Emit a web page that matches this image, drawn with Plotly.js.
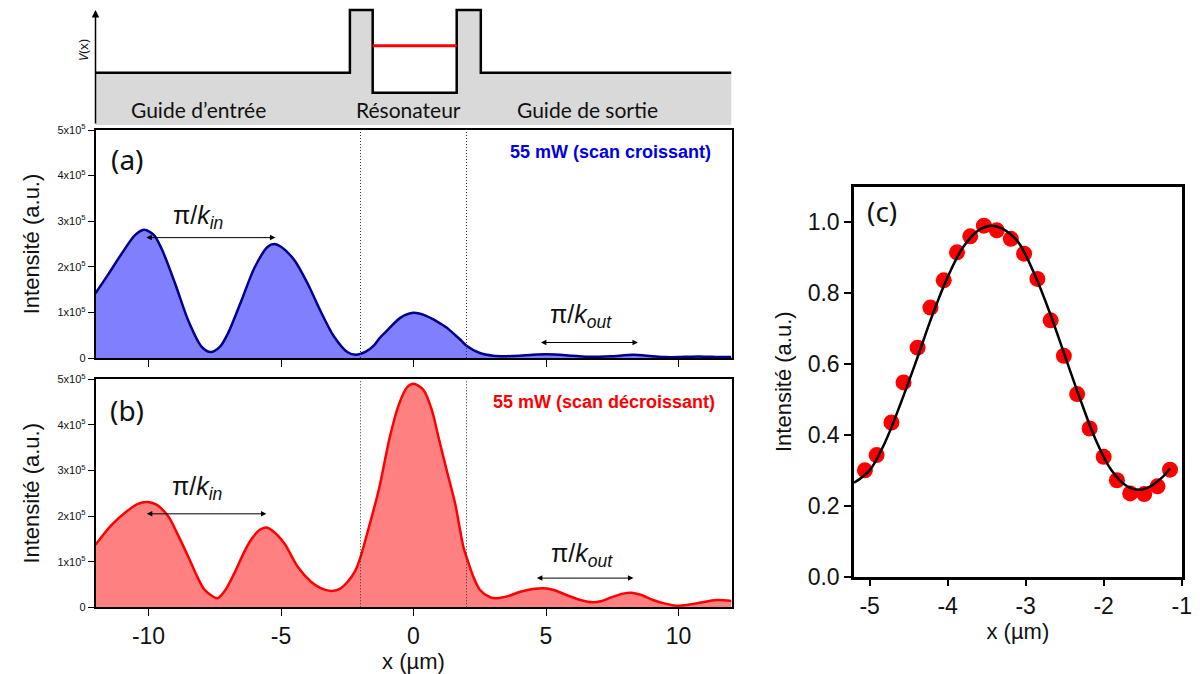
<!DOCTYPE html>
<html>
<head>
<meta charset="utf-8">
<script src="https://cdn.plot.ly/plotly-3.0.1.min.js"></script>
<style>html,body{margin:0;padding:0;background:#fff;}#chart{width:1203px;height:674px;}</style>
</head>
<body>
<div id="chart"></div>
<script>
// ---------- data ----------
// potential profile (top sketch)
const potX = [-12, -2.40, -2.40, -1.54, -1.54, 1.63, 1.63, 2.54, 2.54, 12];
const potV = [0, 0, 1, 1, -0.32, -0.32, 1, 1, 0, 0];
const potBaseX = [-12, 12];
const potBaseV = [-0.834, -0.834];
const levelX = [-1.54, 1.63];
const levelV = [0.43, 0.43];
const regionLabels = ["Guide d’entrée", "Résonateur", "Guide de sortie"];
const regionLabelX = [-8.1, -0.2, 6.55];

// panel (a) : 55 mW, scan croissant
const xA = [-12, -11.5, -11, -10.5, -10.15, -9.8, -9.5, -9, -8.5, -8, -7.65, -7.3, -7, -6.5, -6, -5.5, -5.25, -5, -4.5, -4, -3.5, -3, -2.5, -2.18, -1.8, -1.5, -1.26, -1, -0.5, 0, 0.5, 0.77, 1, 1.27, 1.5, 1.77, 2, 2.5, 3, 3.5, 4, 4.5, 5, 5.5, 6, 6.5, 7, 7.5, 8.3, 9, 9.5, 10, 10.5, 11, 11.5, 12];
const yA = [1.42e5, 1.85e5, 2.3e5, 2.7e5, 2.81e5, 2.7e5, 2.39e5, 1.64e5, 0.82e5, 0.25e5, 0.13e5, 0.25e5, 0.54e5, 1.25e5, 1.98e5, 2.44e5, 2.5e5, 2.44e5, 2.15e5, 1.64e5, 1.02e5, 0.47e5, 0.13e5, 0.07e5, 0.14e5, 0.27e5, 0.45e5, 0.6e5, 0.88e5, 0.99e5, 0.92e5, 0.84e5, 0.76e5, 0.66e5, 0.54e5, 0.40e5, 0.27e5, 0.11e5, 0.05e5, 0.04e5, 0.05e5, 0.07e5, 0.08e5, 0.07e5, 0.05e5, 0.03e5, 0.03e5, 0.04e5, 0.07e5, 0.04e5, 0.02e5, 0.02e5, 0.03e5, 0.03e5, 0.02e5, 0.02e5];

// panel (b) : 55 mW, scan décroissant
const xB = [-12, -11.4, -10.83, -10.4, -10.05, -9.7, -9.25, -8.9, -8.5, -8.2, -7.88, -7.4, -7.1, -6.76, -6.4, -6.13, -5.8, -5.56, -5.3, -4.87, -4.37, -3.87, -3.5, -3.12, -2.8, -2.5, -2.2, -2.0, -1.7, -1.3, -0.9, -0.55, -0.25, 0, 0.37, 0.69, 0.94, 1.25, 1.57, 1.88, 2.03, 2.26, 2.51, 2.89, 3.15, 3.6, 4.03, 4.5, 4.91, 5.3, 5.77, 6.3, 6.77, 7.1, 7.52, 7.9, 8.23, 8.6, 9.04, 9.5, 9.92, 10.4, 10.8, 11.43, 12];
const yB = [1.37e5, 1.8e5, 2.1e5, 2.27e5, 2.31e5, 2.25e5, 1.99e5, 1.6e5, 1.11e5, 0.72e5, 0.38e5, 0.2e5, 0.38e5, 0.75e5, 1.2e5, 1.48e5, 1.7e5, 1.75e5, 1.67e5, 1.40e5, 0.89e5, 0.56e5, 0.42e5, 0.36e5, 0.4e5, 0.55e5, 0.8e5, 1.1e5, 1.72e5, 2.6e5, 3.72e5, 4.45e5, 4.82e5, 4.9e5, 4.77e5, 4.33e5, 3.74e5, 3.01e5, 2.28e5, 1.33e5, 1.05e5, 0.67e5, 0.38e5, 0.22e5, 0.2e5, 0.25e5, 0.34e5, 0.4e5, 0.42e5, 0.38e5, 0.27e5, 0.16e5, 0.11e5, 0.14e5, 0.23e5, 0.3e5, 0.32e5, 0.27e5, 0.16e5, 0.08e5, 0.035e5, 0.06e5, 0.1e5, 0.16e5, 0.14e5];

const yTickVals = [0, 1e5, 2e5, 3e5, 4e5, 5e5];
const yTickText = ["0", "1x10<sup>5</sup>", "2x10<sup>5</sup>", "3x10<sup>5</sup>", "4x10<sup>5</sup>", "5x10<sup>5</sup>"];
const xTickValsAB = [-10, -5, 0, 5, 10];
const xTickTextAB = ["-10", "-5", "0", "5", "10"];
const barrierLines = [-2, 2];

// arrows : [x start, x end, y]
const arrowInA = [-10.14, -5.21, 2.64e5];
const arrowOutA = [4.75, 8.47, 0.34e5];
const arrowInB = [-10.12, -5.55, 2.05e5];
const arrowOutB = [4.6, 8.3, 0.64e5];

// panel (c)
const ptX = [-5.06, -4.91, -4.72, -4.565, -4.385, -4.22, -4.05, -3.88, -3.71, -3.535, -3.37, -3.19, -3.02, -2.85, -2.68, -2.51, -2.34, -2.18, -2.0, -1.83, -1.66, -1.48, -1.31, -1.15];
const ptY = [0.30, 0.343, 0.435, 0.548, 0.646, 0.759, 0.836, 0.915, 0.96, 0.99, 0.977, 0.953, 0.911, 0.84, 0.723, 0.623, 0.515, 0.418, 0.338, 0.272, 0.235, 0.233, 0.255, 0.302];
const fitX = [-5.2, -5.0, -4.8, -4.6, -4.4, -4.2, -4.0, -3.8, -3.6, -3.45, -3.3, -3.1, -2.9, -2.7, -2.5, -2.3, -2.1, -1.9, -1.7, -1.55, -1.4, -1.25, -1.15];
const fitY = [0.265, 0.30, 0.38, 0.49, 0.61, 0.735, 0.845, 0.93, 0.978, 0.99, 0.982, 0.945, 0.86, 0.75, 0.625, 0.5, 0.385, 0.3, 0.255, 0.245, 0.255, 0.28, 0.305];
const xTickValsC = [-5, -4, -3, -2, -1];
const xTickTextC = ["-5", "-4", "-3", "-2", "-1"];

// ---------- figure ----------
const W = 1203, H = 674;
const FONT = "'Liberation Sans', Arial, sans-serif";
const TXT = '#111';
const fx = p => p / W;
const fy = p => 1 - p / H;

const traces = [
  // top potential sketch
  {x: potBaseX, y: potBaseV, xaxis: 'x4', yaxis: 'y4', mode: 'lines', line: {width: 0, color: 'rgba(0,0,0,0)'}, hoverinfo: 'skip', showlegend: false},
  {x: potX, y: potV, xaxis: 'x4', yaxis: 'y4', mode: 'lines', fill: 'tonexty', fillcolor: '#d9d9d9', line: {color: '#000', width: 2.5}, showlegend: false},
  {x: levelX, y: levelV, xaxis: 'x4', yaxis: 'y4', mode: 'lines', line: {color: '#ff0000', width: 3}, showlegend: false},
  // (a)
  {x: xA, y: yA, xaxis: 'x', yaxis: 'y', mode: 'lines', fill: 'tozeroy', fillcolor: '#8080ff', line: {color: '#00008b', width: 2.5, shape: 'spline', smoothing: 0.8}, showlegend: false},
  // (b)
  {x: xB, y: yB, xaxis: 'x2', yaxis: 'y2', mode: 'lines', fill: 'tozeroy', fillcolor: '#ff8080', line: {color: '#ff0000', width: 2.5, shape: 'spline', smoothing: 0.8}, showlegend: false},
  // (c)
  {x: ptX, y: ptY, xaxis: 'x3', yaxis: 'y3', mode: 'markers', marker: {color: '#ff0000', size: 16}, showlegend: false},
  {x: fitX, y: fitY, xaxis: 'x3', yaxis: 'y3', mode: 'lines', line: {color: '#000', width: 2.5, shape: 'spline', smoothing: 1}, showlegend: false}
];

const xDomAB = [fx(95.5), fx(731.5)];
const yTitleFont = {family: FONT, size: 22, color: TXT};

const abX = (anchor, showLabels) => ({
  anchor: anchor, domain: xDomAB, range: [-12, 12], showgrid: false, zeroline: false,
  showline: true, linecolor: '#000', linewidth: 1.5, mirror: true,
  ticks: 'outside', ticklen: 7, tickwidth: 1.2, tickcolor: '#000',
  tickmode: 'array', tickvals: xTickValsAB, ticktext: xTickTextAB,
  showticklabels: showLabels, tickfont: {family: FONT, size: 23, color: TXT}
});
const abY = (anchor, dom) => ({
  anchor: anchor, domain: dom, range: [0, 5e5], showgrid: false, zeroline: false,
  showline: true, linecolor: '#000', linewidth: 1.5, mirror: true,
  ticks: 'outside', ticklen: 6, tickwidth: 1.2, tickcolor: '#000',
  tickmode: 'array', tickvals: yTickVals, ticktext: yTickText,
  tickfont: {family: FONT, size: 11, color: TXT},
  title: {text: 'Intensité (a.u.)', font: yTitleFont, standoff: 12}
});
// secondary (overlaying) axes that only carry the minor tick marks
const minorAxis = (over, anchor, range, dtick, len, width, side) => ({
  overlaying: over, anchor: anchor, range: range, side: side, showgrid: false, zeroline: false, showline: false,
  ticks: 'outside', ticklen: len, tickwidth: width, tickcolor: '#000', tickmode: 'linear', tick0: 0, dtick: dtick,
  showticklabels: false, fixedrange: true
});

const layout = {
  width: W, height: H, margin: {l: 0, r: 0, t: 0, b: 0, pad: 0},
  paper_bgcolor: '#fff', plot_bgcolor: 'rgba(0,0,0,0)', showlegend: false,
  font: {family: FONT, color: TXT},
  xaxis: abX('y', false),
  yaxis: abY('x', [fy(358), fy(130)]),
  xaxis2: Object.assign(abX('y2', true), {title: {text: 'x (µm)', font: yTitleFont, standoff: 4}}),
  yaxis2: abY('x2', [fy(607.3), fy(379.3)]),
  xaxis3: {
    anchor: 'y3', domain: [fx(854), fx(1181.7)], range: [-5.2, -1], showgrid: false, zeroline: false,
    showline: true, linecolor: '#000', linewidth: 2.5, mirror: true,
    ticks: 'outside', ticklen: 7, tickwidth: 2, tickcolor: '#000',
    tickmode: 'array', tickvals: xTickValsC, ticktext: xTickTextC,
    tickfont: {family: FONT, size: 23, color: TXT},
    title: {text: 'x (µm)', font: yTitleFont, standoff: 4}
  },
  yaxis3: {
    anchor: 'x3', domain: [fy(576.7), fy(186.7)], range: [0, 1.1], showgrid: false, zeroline: false,
    showline: true, linecolor: '#000', linewidth: 2.5, mirror: true,
    ticks: 'outside', ticklen: 7, tickwidth: 2, tickcolor: '#000', tickmode: 'linear', tick0: 0, dtick: 0.2, tickformat: '.1f',
    tickfont: {family: FONT, size: 23, color: TXT},
    title: {text: 'Intensité (a.u.)', font: yTitleFont, standoff: 10}
  },
  xaxis4: {anchor: 'y4', domain: xDomAB, range: [-12, 12], visible: false, fixedrange: true},
  yaxis4: {anchor: 'x4', domain: [fy(125), 1], range: [-0.834, 1.16], visible: false, fixedrange: true},
  xaxis5: minorAxis('x', 'y', [-12, 12], 2.5, 4, 1, 'bottom'),
  xaxis6: minorAxis('x2', 'y2', [-12, 12], 2.5, 4, 1, 'bottom'),
  xaxis7: minorAxis('x3', 'y3', [-5.2, -1], 0.5, 4, 2, 'bottom'),
  yaxis5: minorAxis('y', 'x', [0, 5e5], 5e4, 3, 1, 'left'),
  yaxis6: minorAxis('y2', 'x2', [0, 5e5], 5e4, 3, 1, 'left'),
  yaxis7: minorAxis('y3', 'x3', [0, 1.1], 0.1, 4, 2, 'left'),
  shapes: [],
  annotations: []
};

// dotted lines at the barriers
barrierLines.forEach(v => {
  ['x', 'x2'].forEach((xr, i) => {
    layout.shapes.push({type: 'line', xref: xr, yref: (i === 0 ? 'y' : 'y2') + ' domain', x0: v, x1: v, y0: 0, y1: 1,
      line: {color: '#333', width: 1, dash: '1px,2px'}, layer: 'above'});
  });
});

// potential axis arrow
layout.annotations.push({xref: 'x4', yref: 'y4', axref: 'x4', ayref: 'y4', x: -12, y: 1.0, ax: -12, ay: -0.834,
  text: '', showarrow: true, arrowhead: 2, arrowsize: 1, arrowwidth: 1.5, arrowcolor: '#000'});
layout.annotations.push({xref: 'paper', yref: 'paper', x: fx(83), y: fy(50), text: '<i>V</i>(x)', textangle: -90,
  showarrow: false, font: {family: "'Noto Sans', sans-serif", size: 13, color: TXT}, xanchor: 'center', yanchor: 'middle'});
regionLabels.forEach((t, i) => {
  layout.annotations.push({xref: 'x4', yref: 'paper', x: regionLabelX[i], y: fy(110), text: t, showarrow: false,
    font: {family: "Lato, sans-serif", size: 21, color: TXT}, xanchor: 'center', yanchor: 'middle'});
});

// double arrows + labels
function dbl(arr, xr, yr) {
  layout.annotations.push({xref: xr, yref: yr, axref: xr, ayref: yr, x: arr[1], y: arr[2], ax: arr[0], ay: arr[2],
    text: '', showarrow: true, arrowhead: 2, arrowside: 'end+start', arrowsize: 1.1, arrowwidth: 1, arrowcolor: '#000'});
}
dbl(arrowInA, 'x', 'y'); dbl(arrowOutA, 'x', 'y'); dbl(arrowInB, 'x2', 'y2'); dbl(arrowOutB, 'x2', 'y2');

const piFont = {family: FONT, size: 25, color: TXT};
const piIn = 'π/<i>k</i><sub><i>in</i></sub>';
const piOut = 'π/<i>k</i><sub><i>out</i></sub>';
layout.annotations.push({xref: 'x', yref: 'y', x: -8.13, y: 3.09e5, text: piIn, showarrow: false, font: piFont});
layout.annotations.push({xref: 'x', yref: 'y', x: 6.33, y: 0.93e5, text: piOut, showarrow: false, font: piFont});
layout.annotations.push({xref: 'x2', yref: 'y2', x: -8.18, y: 2.62e5, text: piIn, showarrow: false, font: piFont});
layout.annotations.push({xref: 'x2', yref: 'y2', x: 6.35, y: 1.15e5, text: piOut, showarrow: false, font: piFont});

// panel labels
const lblFont = {family: "'Noto Sans', sans-serif", size: 28, color: TXT};
layout.annotations.push({xref: 'x', yref: 'y', x: -10.8, y: 4.37e5, text: '(a)', showarrow: false, font: lblFont});
layout.annotations.push({xref: 'x2', yref: 'y2', x: -10.8, y: 4.33e5, text: '(b)', showarrow: false, font: lblFont});
layout.annotations.push({xref: 'x3', yref: 'y3', x: -4.846, y: 1.031, text: '(c)', showarrow: false, font: lblFont});

layout.annotations.push({xref: 'x', yref: 'y', x: 11.31, y: 4.52e5, xanchor: 'right', text: '<b>55 mW (scan croissant)</b>', showarrow: false,
  font: {family: FONT, size: 18, color: '#0000e6'}});
layout.annotations.push({xref: 'x2', yref: 'y2', x: 11.46, y: 4.51e5, xanchor: 'right', text: '<b>55 mW (scan décroissant)</b>', showarrow: false,
  font: {family: FONT, size: 18, color: '#ff0000'}});

Plotly.newPlot('chart', traces, layout, {displayModeBar: false});
</script>
</body>
</html>
